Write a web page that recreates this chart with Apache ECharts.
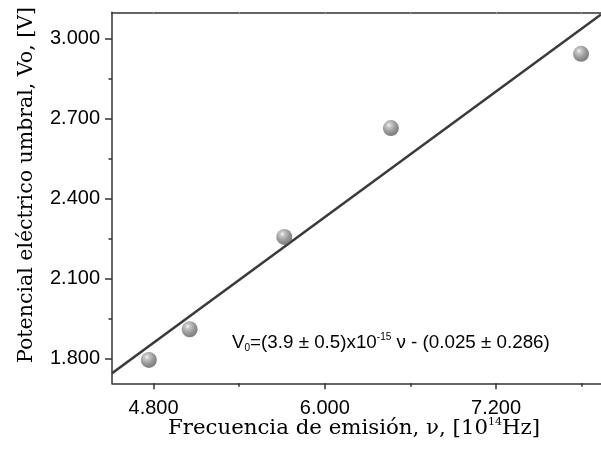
<!DOCTYPE html>
<html>
<head>
<meta charset="utf-8">
<script src="https://cdn.jsdelivr.net/npm/echarts@6/dist/echarts.min.js"></script>
<style>html,body{margin:0;padding:0;background:#fff}#c{width:601px;height:459px}</style>
</head>
<body>
<div id="c"></div>
<script>
// Data
var freq = [4.767, 5.053, 5.716, 6.463, 7.795];      // 10^14 Hz
var volt = [1.794, 1.909, 2.256, 2.665, 2.944];      // V
var fitX = [4.509, 7.935];
var fitY = [1.744, 3.092];
var xMajor = [4.8, 6.0, 7.2];
var xMinor = [5.4, 6.6, 7.8];
var yMajor = [1.8, 2.1, 2.4, 2.7, 3.0];
var yMinor = [1.95, 2.25, 2.55, 2.85];

var chart = echarts.init(document.getElementById('c'), null, {renderer: 'canvas'});
var axisCol = '#333';
var xRange = {min: 4.509, max: 7.935};
var yRange = {min: 1.706, max: 3.100};
var pts = freq.map(function (f, i) { return [f, volt[i]]; });
var fit = fitX.map(function (f, i) { return [f, fitY[i]]; });

var sphere = new echarts.graphic.RadialGradient(0.38, 0.32, 0.72, [
  {offset: 0, color: '#f4f4f4'},
  {offset: 0.2, color: '#b8b8b8'},
  {offset: 0.6, color: '#7e7e7e'},
  {offset: 1, color: '#555555'}
]);

chart.setOption({
  animation: false,
  grid: {left: 112, top: 12.3, right: -2, bottom: 75.7, containLabel: false},
  xAxis: [
    {type: 'value', min: xRange.min, max: xRange.max, position: 'bottom',
     axisLine: {show: true, lineStyle: {color: axisCol, width: 1.5}},
     axisTick: {show: true, inside: false, length: 6, customValues: xMajor, lineStyle: {color: axisCol, width: 1.5}},
     axisLabel: {show: true, customValues: xMajor, margin: 15, color: '#000', fontFamily: 'Liberation Sans', fontSize: 20,
       formatter: function (v) { return v.toFixed(3); }},
     splitLine: {show: false}},
    {type: 'value', min: xRange.min, max: xRange.max, position: 'bottom',
     axisLine: {show: false},
     axisTick: {show: true, inside: false, length: 3.5, customValues: xMinor, lineStyle: {color: axisCol, width: 1.5}},
     axisLabel: {show: false}, splitLine: {show: false}},
    {type: 'value', min: xRange.min, max: xRange.max, position: 'top',
     axisLine: {show: true, lineStyle: {color: axisCol, width: 1.5}},
     axisTick: {show: true, inside: true, length: 2, customValues: xMajor.concat(xMinor), lineStyle: {color: '#999', width: 1}},
     axisLabel: {show: false}, splitLine: {show: false}}
  ],
  yAxis: [
    {type: 'value', min: yRange.min, max: yRange.max, position: 'left',
     axisLine: {show: true, lineStyle: {color: axisCol, width: 1.5}},
     axisTick: {show: true, inside: false, length: 7, customValues: yMajor, lineStyle: {color: axisCol, width: 1.5}},
     axisLabel: {show: true, customValues: yMajor, margin: 12, color: '#000', fontFamily: 'Liberation Sans', fontSize: 20,
       formatter: function (v) { return v.toFixed(3); }},
     splitLine: {show: false}},
    {type: 'value', min: yRange.min, max: yRange.max, position: 'left',
     axisLine: {show: false},
     axisTick: {show: true, inside: false, length: 3.5, customValues: yMinor, lineStyle: {color: axisCol, width: 1.5}},
     axisLabel: {show: false}, splitLine: {show: false}}
  ],
  series: [
    {type: 'line', xAxisIndex: 0, yAxisIndex: 0, data: fit, showSymbol: false, symbol: 'none',
     lineStyle: {color: '#3a3a3a', width: 2.6}, clip: true, z: 2},
    {type: 'scatter', xAxisIndex: 0, yAxisIndex: 0, data: pts, symbol: 'circle', symbolSize: 16,
     itemStyle: {color: sphere}, z: 3}
  ],
  graphic: [
    {type: 'text', x: 354, y: 428,
     style: {
       text: 'Frecuencia de emisión, ν, [10{sup|14}Hz]',
       fontFamily: 'DejaVu Serif', fontSize: 21.3, fill: '#000',
       align: 'center', verticalAlign: 'middle',
       rich: {sup: {fontFamily: 'DejaVu Serif', fontSize: 11, verticalAlign: 'top', padding: [0, 0, 12, 0]}}
     }},
    {type: 'text', x: 27, y: 185, rotation: Math.PI / 2,
     style: {
       text: 'Potencial eléctrico umbral, Vo, [V]',
       fontFamily: 'DejaVu Serif', fontSize: 20.5, fill: '#000',
       align: 'center', verticalAlign: 'middle'
     }},
    {type: 'text', x: 232, y: 343,
     style: {
       text: 'V{sub|0}=(3.9 ± 0.5)x10{sup|-15} ν - (0.025 ± 0.286)',
       fontFamily: 'Liberation Sans', fontSize: 18.8, fill: '#000',
       align: 'left', verticalAlign: 'middle',
       rich: {
         sub: {fontFamily: 'Liberation Sans', fontSize: 10, padding: [10, 0, 0, 0]},
         sup: {fontFamily: 'Liberation Sans', fontSize: 10, padding: [0, 0, 11, 0]}
       }
     }}
  ]
});
</script>
</body>
</html>
